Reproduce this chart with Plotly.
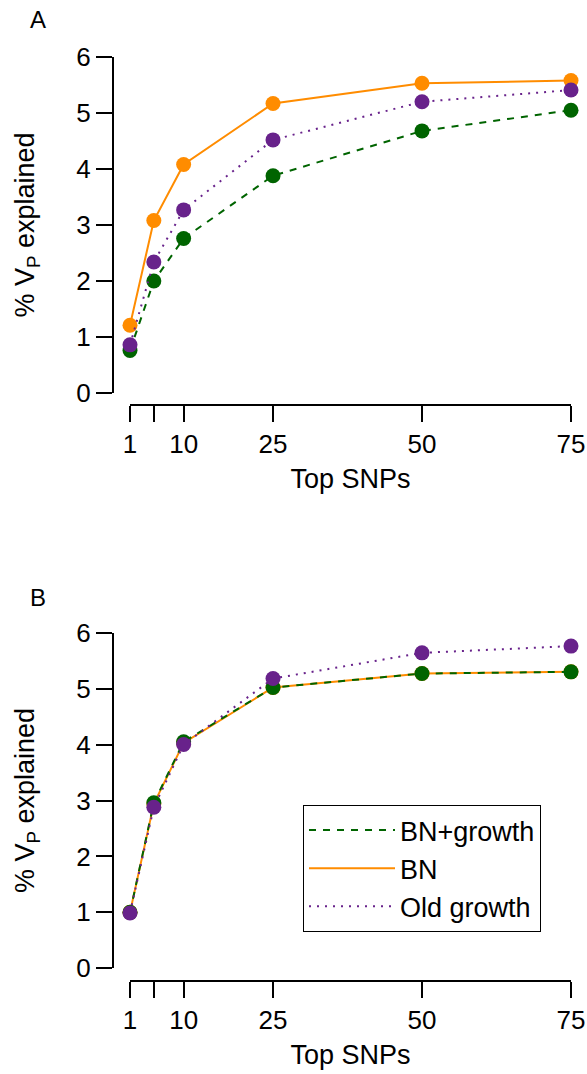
import plotly.graph_objects as go

W, H = 587, 1074

top_snps = [1, 5, 10, 25, 50, 75]
x_tick_vals = [1, 5, 10, 25, 50, 75]
x_tick_text = ["1", "", "10", "25", "50", "75"]
y_tick_vals = [0, 1, 2, 3, 4, 5, 6]

series_names = ["BN+growth", "BN", "Old growth"]

# Panel A values (% VP explained)
a_bn_growth = [0.76, 2.00, 2.76, 3.88, 4.68, 5.05]
a_bn = [1.21, 3.08, 4.08, 5.17, 5.53, 5.58]
a_old_growth = [0.86, 2.34, 3.27, 4.52, 5.20, 5.41]

# Panel B values
b_bn_growth = [1.00, 2.96, 4.05, 5.02, 5.27, 5.30]
b_bn = [1.00, 2.94, 4.03, 5.02, 5.27, 5.30]
b_old_growth = [0.99, 2.88, 4.00, 5.18, 5.64, 5.76]

colors = {"BN+growth": "#006400", "BN": "#FF8C00", "Old growth": "#68228B"}
dashes = {"BN+growth": "7px,7px", "BN": "solid", "Old growth": "2px,6px"}
rank = {"BN+growth": 1, "BN": 2, "Old growth": 3}

FONT = "Liberation Sans, Arial, Helvetica, sans-serif"

def px_x(p):
    return p / W

def px_y(p):
    return 1 - p / H

fig = go.Figure()

panels = [
    ("x", "y", {"BN+growth": a_bn_growth, "BN": a_bn, "Old growth": a_old_growth}, False),
    ("x2", "y2", {"BN+growth": b_bn_growth, "BN": b_bn, "Old growth": b_old_growth}, True),
]

draw_order = ["BN", "BN+growth", "Old growth"]

for xa, ya, data, show_leg in panels:
    for name in draw_order:
        fig.add_trace(go.Scatter(
            x=top_snps, y=data[name], mode="lines", name=name,
            line=dict(color=colors[name], width=2, dash=dashes[name]),
            xaxis=xa, yaxis=ya, showlegend=show_leg, legendrank=rank[name],
            cliponaxis=False, hoverinfo="skip"))
        fig.add_trace(go.Scatter(
            x=top_snps, y=data[name], mode="markers", name=name,
            marker=dict(color=colors[name], size=15, line=dict(width=0)),
            xaxis=xa, yaxis=ya, showlegend=False,
            cliponaxis=False))

axis_common = dict(showgrid=False, zeroline=False, showline=True, automargin=False,
                   linecolor="black", linewidth=2, ticks="outside",
                   ticklen=16, tickwidth=2, tickcolor="black",
                   tickfont=dict(family=FONT, size=26, color="black"))

xa_common = dict(axis_common, range=[1, 75], tickmode="array",
                 tickvals=x_tick_vals, ticktext=x_tick_text,
                 domain=[px_x(130), px_x(571)], anchor="free",
                 title=dict(text="Top SNPs", font=dict(family=FONT, size=27, color="black"), standoff=10))
ya_common = dict(axis_common, range=[0, 6], tickmode="array",
                 tickvals=y_tick_vals, anchor="free", position=px_x(113),
                 title=dict(text="% V<sub>P</sub> explained", font=dict(family=FONT, size=27, color="black"), standoff=33))

fig.update_layout(
    width=W, height=H,
    margin=dict(l=0, r=0, t=0, b=0, autoexpand=False),
    paper_bgcolor="white", plot_bgcolor="white",
    xaxis=dict(xa_common, position=px_y(405)),
    yaxis=dict(ya_common, domain=[px_y(393), px_y(57)]),
    xaxis2=dict(xa_common, position=px_y(981)),
    yaxis2=dict(ya_common, domain=[px_y(968.3), px_y(632.7)]),
    legend=dict(x=px_x(303), y=px_y(805), xanchor="left", yanchor="top",
                bordercolor="black", borderwidth=1, bgcolor="white",
                font=dict(family=FONT, size=27, color="black"),
                itemwidth=86, tracegroupgap=0),
    annotations=[
        dict(text="A", x=px_x(38), y=px_y(20), xref="paper", yref="paper",
             xanchor="center", yanchor="middle",
             showarrow=False, font=dict(family=FONT, size=24, color="black")),
        dict(text="B", x=px_x(38), y=px_y(597), xref="paper", yref="paper",
             xanchor="center", yanchor="middle",
             showarrow=False, font=dict(family=FONT, size=24, color="black")),
    ],
)

fig.write_html("out.html")
